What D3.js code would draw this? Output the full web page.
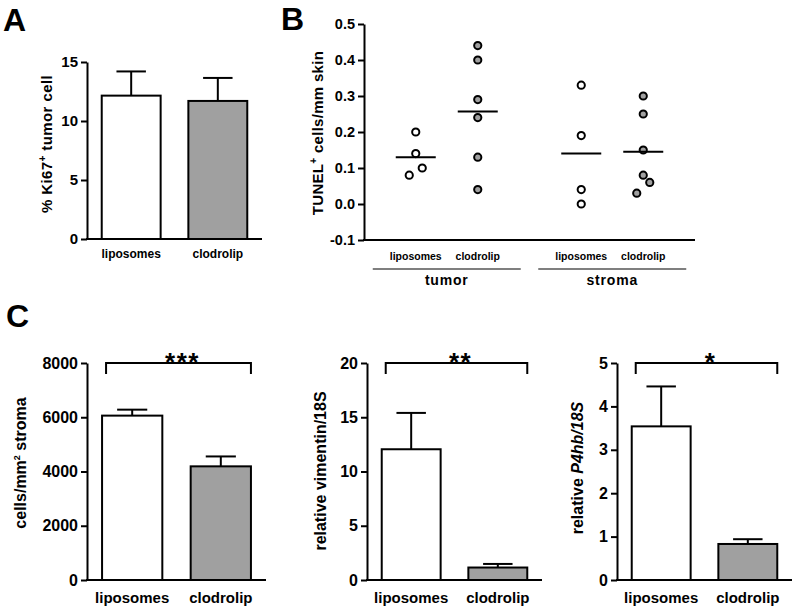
<!DOCTYPE html>
<html><head><meta charset="utf-8">
<script src="https://cdn.jsdelivr.net/npm/d3@7"></script>
<style>body{margin:0;background:#fff}text{font-family:"Liberation Sans",Arial,sans-serif;font-weight:bold;fill:#000}</style>
</head><body><svg id="c" width="797" height="610"></svg>
<script>
// ---- data ----
const groups = ["liposomes", "clodrolip"];
const tissues = ["tumor", "stroma"];
// Panel A: % Ki67+ tumor cells (mean, SEM)
const ki67Mean = [12.15, 11.7];
const ki67Sem = [2.05, 1.95];
const ki67Ticks = [0, 5, 10, 15];
// Panel B: TUNEL+ cells/mm skin, individual values
const tunelTumorLipo = [0.20, 0.14, 0.10, 0.08];
const tunelTumorClod = [0.44, 0.40, 0.29, 0.24, 0.13, 0.04];
const tunelStromaLipo = [0.33, 0.19, 0.04, 0.00];
const tunelStromaClod = [0.30, 0.25, 0.15, 0.08, 0.06, 0.03];
const tunelTicks = [-0.1, 0.0, 0.1, 0.2, 0.3, 0.4, 0.5];
// Panel C
const stromaMean = [6060, 4190], stromaSem = [220, 365];
const stromaTicks = [0, 2000, 4000, 6000, 8000];
const vimMean = [12.05, 1.15], vimSem = [3.35, 0.33];
const vimTicks = [0, 5, 10, 15, 20];
const p4Mean = [3.54, 0.83], p4Sem = [0.92, 0.11];
const p4Ticks = [0, 1, 2, 3, 4, 5];
const sigLabels = ["***", "**", "*"];

const fills = ["#ffffff", "#a0a0a0"];
const svg = d3.select("#c");
svg.append("rect").attr("width", 797).attr("height", 610).attr("fill", "#fff");

function styleAxis(g, fs) {
  g.selectAll("path,line").attr("stroke", "#000").attr("stroke-width", 2);
  g.selectAll("text").attr("font-size", fs).attr("font-family", "Liberation Sans, Arial, sans-serif").attr("font-weight", "bold").attr("fill", "#000");
}

function barPanel(o) {
  const g = svg.append("g");
  const y = d3.scaleLinear().domain([o.ticks[0], o.ticks[o.ticks.length - 1]]).range([o.y0, o.y1]);
  const x = d3.scaleBand().domain(groups).range([o.x0, o.x0 + o.w]).paddingInner(0.32).paddingOuter(0.17);
  groups.forEach((k, i) => {
    const bx = x(k), bw = x.bandwidth(), cx = bx + bw / 2;
    const top = y(o.mean[i]), cap = y(o.mean[i] + o.sem[i]);
    g.append("line").attr("x1", cx).attr("x2", cx).attr("y1", top).attr("y2", cap).attr("stroke", "#000").attr("stroke-width", 2);
    g.append("line").attr("x1", cx - bw / 4).attr("x2", cx + bw / 4).attr("y1", cap).attr("y2", cap).attr("stroke", "#000").attr("stroke-width", 2);
    g.append("rect").attr("x", bx).attr("y", top).attr("width", bw).attr("height", y(0) - top)
      .attr("fill", fills[i]).attr("stroke", "#000").attr("stroke-width", 2);
  });
  const ya = g.append("g").attr("transform", `translate(${o.x0},0)`)
    .call(d3.axisLeft(y).tickValues(o.ticks).tickSizeOuter(0).tickFormat(d3.format("d")));
  styleAxis(ya, o.tickFs);
  g.append("line").attr("x1", o.x0 - 1).attr("x2", o.x0 + o.w).attr("y1", y(0)).attr("y2", y(0)).attr("stroke", "#000").attr("stroke-width", 2);
  groups.forEach(k => {
    g.append("text").attr("x", x(k) + x.bandwidth() / 2).attr("y", o.catY).attr("text-anchor", "middle")
      .attr("font-size", o.catFs).text(k);
  });
  const lab = g.append("text").attr("transform", `translate(${o.labX},${o.labY}) rotate(-90)`)
    .attr("text-anchor", "middle").attr("font-size", o.labFs).attr("letter-spacing", o.labLs || 0);
  o.label(lab);
  if (o.sig) {
    const xa = x(groups[0]) + 4, xb = x(groups[1]) + x.bandwidth();
    const yb = y(o.ticks[o.ticks.length - 1]);
    g.append("path").attr("d", `M${xa},${yb + 11}V${yb}H${xb}V${yb + 11}`).attr("fill", "none").attr("stroke", "#000").attr("stroke-width", 2);
    g.append("text").attr("x", (xa + xb) / 2 + 4).attr("y", yb + 8).attr("text-anchor", "middle")
      .attr("font-size", 26).attr("letter-spacing", 1.5).text(o.sig);
  }
  return g;
}

// Panel letters
svg.append("text").attr("x", 3).attr("y", 31).attr("font-size", 32).text("A");
svg.append("text").attr("x", 281).attr("y", 30).attr("font-size", 32).text("B");
svg.append("text").attr("x", 6).attr("y", 327).attr("font-size", 32).text("C");

// Panel A
barPanel({x0: 87, w: 175, y0: 239, y1: 62, ticks: ki67Ticks, mean: ki67Mean, sem: ki67Sem,
  tickFs: 15, catFs: 12, catY: 258, labX: 52, labY: 144, labFs: 15, labLs: 0.4,
  label: t => { t.append("tspan").text("% Ki67"); t.append("tspan").attr("dy", -6).attr("font-size", 10).text("+");
    t.append("tspan").attr("dy", 6).text(" tumor cell"); }});

// Panel C
barPanel({x0: 87, w: 179, y0: 580, y1: 363, ticks: stromaTicks, mean: stromaMean, sem: stromaSem,
  tickFs: 16, catFs: 15, catY: 603, labX: 26, labY: 463, labFs: 16, sig: sigLabels[0],
  label: t => { t.append("tspan").text("cells/mm"); t.append("tspan").attr("dy", -6).attr("font-size", 9).text("2");
    t.append("tspan").attr("dy", 6).text(" stroma"); }});
barPanel({x0: 367, w: 175, y0: 580, y1: 363, ticks: vimTicks, mean: vimMean, sem: vimSem,
  tickFs: 16, catFs: 15, catY: 603, labX: 326, labY: 471, labFs: 16,  sig: sigLabels[1],
  label: t => t.text("relative vimentin/18S")});
barPanel({x0: 617, w: 175, y0: 580, y1: 363, ticks: p4Ticks, mean: p4Mean, sem: p4Sem,
  tickFs: 16, catFs: 15, catY: 603, labX: 583, labY: 468, labFs: 16, sig: sigLabels[2],
  label: t => { t.append("tspan").text("relative "); t.append("tspan").attr("font-style", "italic").text("P4hb/18S"); }});

// Panel B
(function () {
  const g = svg.append("g");
  const x0 = 364, x1 = 695;
  const y = d3.scaleLinear().domain([-0.1, 0.5]).range([240, 24]);
  const outer = d3.scalePoint().domain(tissues).range([x0, x1]).padding(0.5);
  const inner = d3.scalePoint().domain(groups).range([-62, 62]).padding(0.5);
  const sets = [
    {t: "tumor", g: "liposomes", v: tunelTumorLipo},
    {t: "tumor", g: "clodrolip", v: tunelTumorClod},
    {t: "stroma", g: "liposomes", v: tunelStromaLipo},
    {t: "stroma", g: "clodrolip", v: tunelStromaClod}
  ];
  const d = 6.5, thr = 12;
  sets.forEach(s => {
    const cx = outer(s.t) + inner(s.g);
    const sorted = s.v.slice().sort((a, b) => b - a);
    const clusters = [];
    sorted.forEach((v, i) => {
      if (i > 0 && Math.abs(y(v) - y(sorted[i - 1])) < thr) clusters[clusters.length - 1].push(v);
      else clusters.push([v]);
    });
    const pts = [];
    clusters.forEach(c => {
      const offs = c.length === 1 ? [0] : c.length === 2 ? [d, -d] : [0, d, -d, 2 * d, -2 * d, 3 * d];
      c.forEach((v, i) => pts.push({v, dx: offs[i]}));
    });
    const fi = groups.indexOf(s.g);
    g.selectAll(null).data(pts).join("circle")
      .attr("cx", p => cx + p.dx).attr("cy", p => y(p.v)).attr("r", 3.6)
      .attr("fill", fills[fi]).attr("stroke", "#000").attr("stroke-width", 2);
    const m = d3.mean(s.v);
    g.append("line").attr("x1", cx - 20).attr("x2", cx + 20).attr("y1", y(m)).attr("y2", y(m)).attr("stroke", "#000").attr("stroke-width", 2);
    g.append("text").attr("x", cx).attr("y", 260).attr("text-anchor", "middle").attr("font-size", 10.5).text(s.g);
  });
  const ya = g.append("g").attr("transform", `translate(${x0},0)`)
    .call(d3.axisLeft(y).tickValues(tunelTicks).tickSizeOuter(0).tickFormat(d3.format(".1f")));
  ya.selectAll("text").text(v => d3.format(".1f")(v).replace("−", "-"));
  styleAxis(ya, 14.5);
  g.append("line").attr("x1", x0 - 1).attr("x2", x1).attr("y1", y(-0.1)).attr("y2", y(-0.1)).attr("stroke", "#000").attr("stroke-width", 2);
  tissues.forEach(t => {
    const c = outer(t);
    g.append("line").attr("x1", c - 74).attr("x2", c + 74).attr("y1", 269).attr("y2", 269).attr("stroke", "#000").attr("stroke-width", 1.2);
    g.append("text").attr("x", c).attr("y", 285).attr("text-anchor", "middle").attr("font-size", 14).attr("letter-spacing", 0.8).text(t);
  });
  const lab = g.append("text").attr("transform", "translate(323,133) rotate(-90)").attr("text-anchor", "middle").attr("font-size", 15).attr("letter-spacing", 0.3);
  lab.append("tspan").text("TUNEL");
  lab.append("tspan").attr("dy", -6).attr("font-size", 10).text("+");
  lab.append("tspan").attr("dy", 6).text(" cells/mm skin");
})();
</script></body></html>
